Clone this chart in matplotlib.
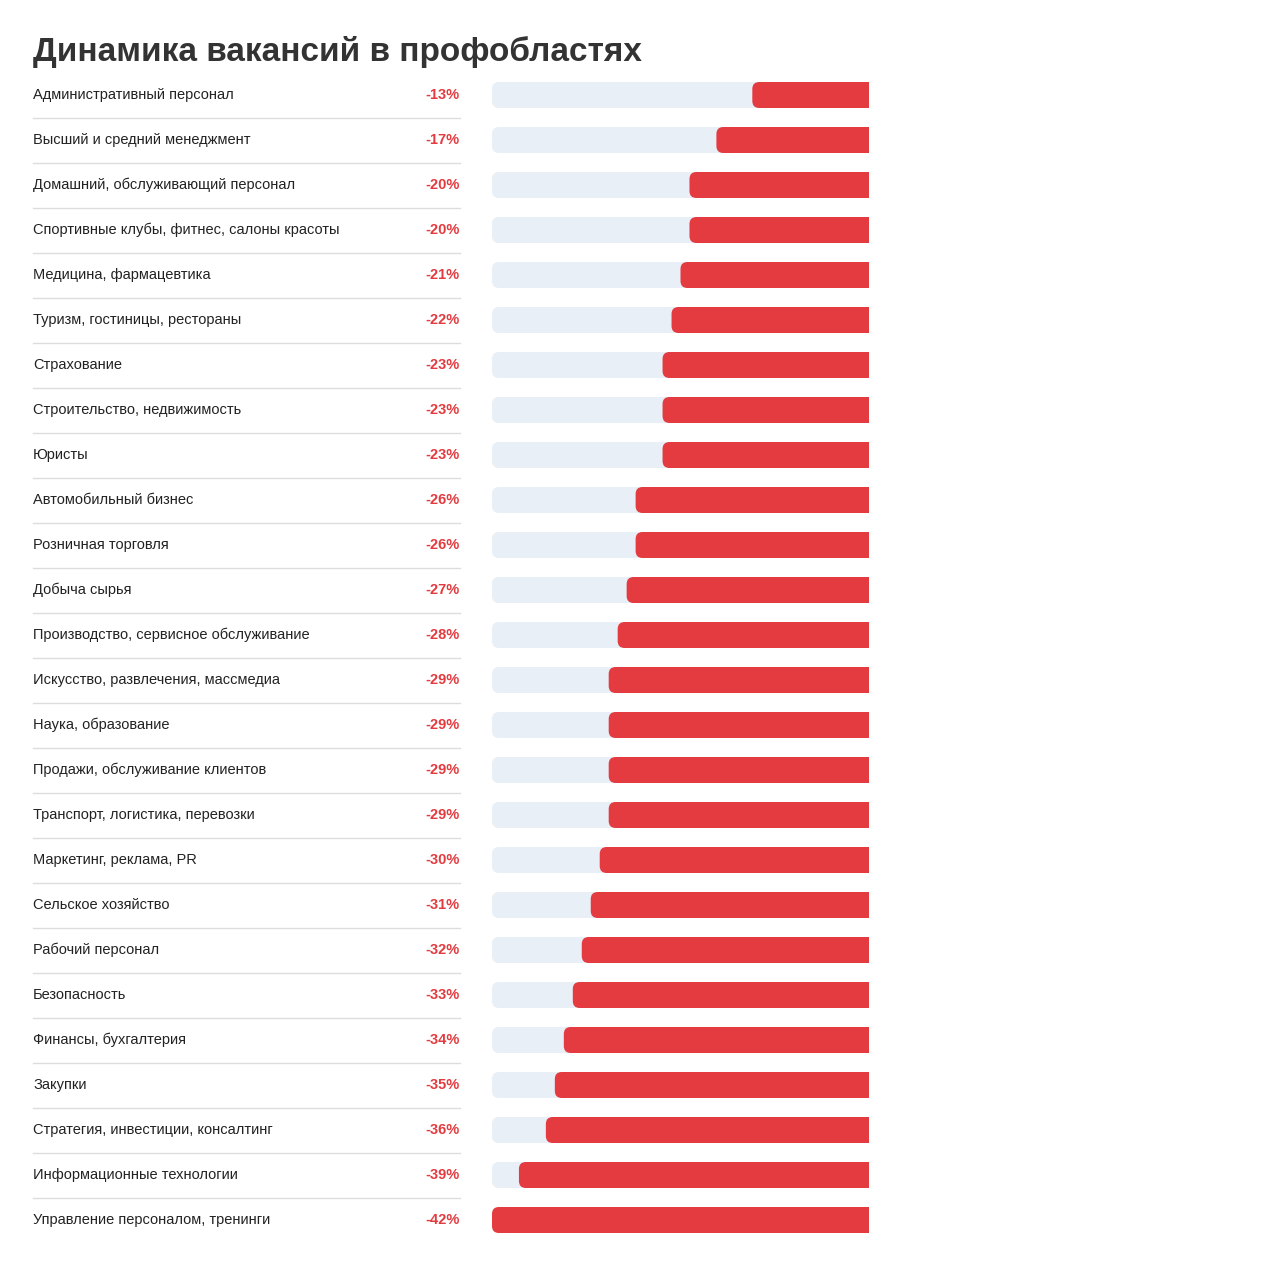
import matplotlib
matplotlib.use("Agg")
import matplotlib.pyplot as plt
from matplotlib.patches import FancyBboxPatch, Rectangle

TITLE = "Динамика вакансий в профобластях"
categories = [
    "Административный персонал", "Высший и средний менеджмент",
    "Домашний, обслуживающий персонал", "Спортивные клубы, фитнес, салоны красоты",
    "Медицина, фармацевтика", "Туризм, гостиницы, рестораны", "Страхование",
    "Строительство, недвижимость", "Юристы", "Автомобильный бизнес",
    "Розничная торговля", "Добыча сырья", "Производство, сервисное обслуживание",
    "Искусство, развлечения, массмедиа", "Наука, образование",
    "Продажи, обслуживание клиентов", "Транспорт, логистика, перевозки",
    "Маркетинг, реклама, PR", "Сельское хозяйство", "Рабочий персонал",
    "Безопасность", "Финансы, бухгалтерия", "Закупки",
    "Стратегия, инвестиции, консалтинг", "Информационные технологии",
    "Управление персоналом, тренинги",
]
values = [-13, -17, -20, -20, -21, -22, -23, -23, -23, -26, -26, -27, -28,
          -29, -29, -29, -29, -30, -31, -32, -33, -34, -35, -36, -39, -42]

plt.rcParams["font.family"] = ["Liberation Sans", "DejaVu Sans"]
RED = "#e33b3f"
BG = "#e9eff6"

fig = plt.figure(figsize=(12.8, 12.67), dpi=100)
ax = fig.add_axes([0, 0, 1, 1])
ax.set_xlim(0, 1280)
ax.set_ylim(1267, 0)
ax.axis("off")

ax.text(33, 52, TITLE, fontsize=24, fontweight="bold", color="#333333", va="center")

x0, x1 = 492, 869
h = 26
vmax = max(abs(v) for v in values)
for i, (cat, v) in enumerate(zip(categories, values)):
    y = 95 + 45 * i
    ax.text(33, y, cat, fontsize=10.5, color="#222222", va="center")
    ax.text(460, y, f"{v}%", fontsize=10.5, color=RED, fontweight="bold",
            va="center", ha="right")
    if i < len(values) - 1:
        ax.plot([33, 460], [y + 22.5, y + 22.5], color="#dddddd", lw=1)
    clip = Rectangle((x0, y - h / 2), x1 - x0, h, transform=ax.transData)
    bg = FancyBboxPatch((x0, y - h / 2), (x1 - x0) + 20, h,
                        boxstyle="round,pad=0,rounding_size=7", fc=BG, ec="none")
    ax.add_patch(bg)
    bg.set_clip_path(clip)
    w = (x1 - x0) * abs(v) / vmax
    red = FancyBboxPatch((x1 - w, y - h / 2), w + 20, h,
                         boxstyle="round,pad=0,rounding_size=7", fc=RED, ec="none")
    ax.add_patch(red)
    red.set_clip_path(clip)

fig.savefig("out.png", dpi=100)
